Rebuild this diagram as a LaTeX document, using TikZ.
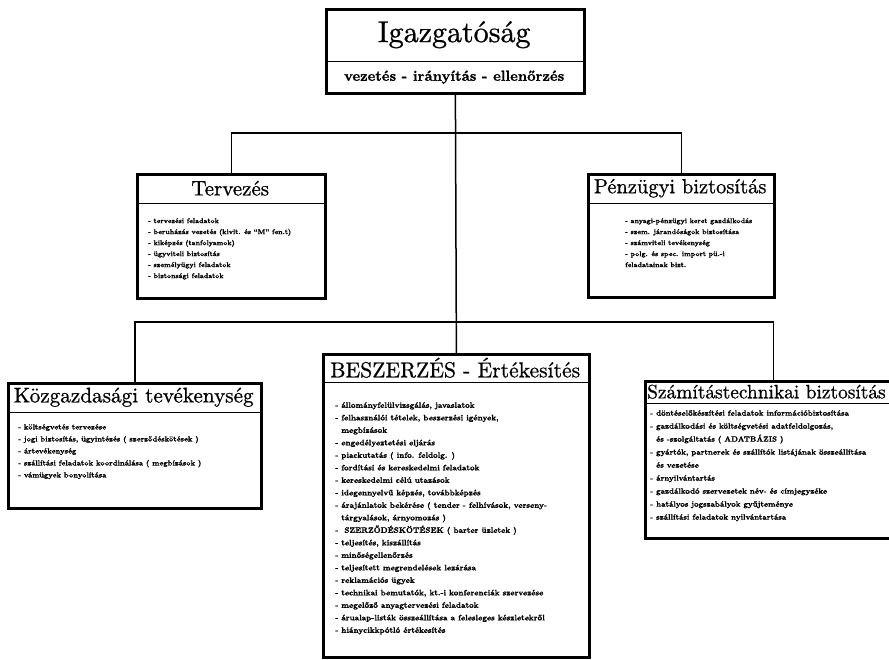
\documentclass[tikz,border=0pt]{standalone}
\usepackage{fontspec}
\usepackage{tikz}
\usetikzlibrary{positioning}

\newfontfamily\headfont[Ligatures=TeX,FakeBold=0.8]{lmroman10-regular.otf}
\newfontfamily\listfont[Ligatures=TeX,FakeBold=1.2]{lmroman10-bold.otf}

\tikzset{
  box/.style={draw, line width=2.8pt, anchor=north west, inner sep=0pt},
  head/.style={anchor=north west, inner sep=0pt},
  rule/.style={line width=1.5pt},
  wire/.style={line width=1.5pt},
  list/.style={anchor=north west, align=left, inner sep=0pt},
}

\begin{document}
\begin{tikzpicture}[x=1pt,y=-1pt]
\useasboundingbox (0,0) rectangle (889,659);

\node[box, minimum width=258pt, minimum height=84pt] (igaz) at (325,8) {};
\node[head, minimum width=258pt, minimum height=53pt, font=\headfont\fontsize{30}{32}\selectfont] (igazT) at (igaz.north west) {Igazgatóság};
\draw[rule] (igazT.south west) -- (igazT.south east);
\node[below=0pt of igazT, minimum height=31pt, inner sep=0pt, font=\listfont\fontsize{14.6}{16}\selectfont] (igazS) {vezetés - irányítás - ellenőrzés};

\node[box, minimum width=188pt, minimum height=124pt] (terv) at (136,173) {};
\node[head, minimum width=188pt, minimum height=30pt, font=\headfont\fontsize{21}{23}\selectfont] (tervT) at (terv.north west) {Tervezés};
\draw[rule] (tervT.south west) -- (tervT.south east);
\node[list, font=\listfont\fontsize{7}{11}\selectfont] (tervL) at (148,218) {- tervezési feladatok\\
- beruházás vezetés (kivit. és ``M'' fen.t)\\
- kiképzés (tanfolyamok)\\
- ügyviteli biztosítás\\
- személyügyi feladatok\\
- biztonsági feladatok};

\node[box, minimum width=186pt, minimum height=123pt] (penz) at (587,173) {};
\node[head, minimum width=186pt, minimum height=30pt, font=\headfont\fontsize{20.5}{22}\selectfont] (penzT) at (penz.north west) {Pénzügyi biztosítás};
\draw[rule] (penzT.south west) -- (penzT.south east);
\node[list, font=\listfont\fontsize{7}{11}\selectfont] (penzL) at (625,218) {- anyagi-pénzügyi keret gazdálkodás\\
- szem. járandóságok biztosítása\\
- számviteli tevékenység\\
- polg. és spec. import pü.-i\\
feladatainak bizt.};

\node[box, minimum width=253pt, minimum height=125pt] (kozg) at (7,382) {};
\node[head, minimum width=253pt, minimum height=30pt, font=\headfont\fontsize{21.2}{23}\selectfont] (kozgT) at (kozg.north west) {Közgazdasági tevékenység};
\draw[rule] (kozgT.south west) -- (kozgT.south east);
\node[list, font=\listfont\fontsize{7.5}{12}\selectfont] (kozgL) at (18,424) {- költségvetés tervezése\\
- jogi biztosítás, ügyintézés ( szerződéskötések )\\
- ártevékenység\\
- szállítási feladatok koordinálása ( megbízások )\\
- vámügyek bonyolítása};

\node[box, minimum width=266pt, minimum height=303pt] (besz) at (322,353) {};
\node[head, minimum width=266pt, minimum height=29pt, font=\headfont\fontsize{21.6}{23}\selectfont] (beszT) at (besz.north west) {BESZERZÉS - Értékesítés};
\draw[rule] (beszT.south west) -- (beszT.south east);
\node[list, font=\listfont\fontsize{8}{12.5}\selectfont] (beszL) at (335,402) {- állományfelülvizsgálás, javaslatok\\
- felhasználói tételek, beszerzési igények,\\
\phantom{- }megbízások\\
- engedélyeztetési eljárás\\
- piackutatás ( info. feldolg. )\\
- fordítási és kereskedelmi feladatok\\
- kereskedelmi célú utazások\\
- idegennyelvű képzés, továbbképzés\\
- árajánlatok bekérése ( tender - felhívások, verseny-\\
\phantom{- }tárgyalások, árnyomozás )\\
- \ SZERZŐDÉSKÖTÉSEK ( barter üzletek )\\
- teljesítés, kiszállítás\\
- minőségellenőrzés\\
- teljesített megrendelések lezárása\\
- reklamációs ügyek\\
- technikai bemutatók, kt.-i konferenciák szervezése\\
- megelőző anyagtervezési feladatok\\
- árualap-listák összeállítása a felesleges készletekről\\
- hiánycikkpótló értékesítés};

\node[box, minimum width=256pt, minimum height=157pt] (szam) at (644,380) {};
\node[head, minimum width=256pt, minimum height=23pt] (szamT) at (szam.north west) {};
\node[anchor=west, inner sep=0pt, font=\headfont\fontsize{19.4}{21}\selectfont] (szamN) at ([xshift=3pt]szamT.west) {Számítástechnikai biztosítás};
\draw[rule] (szamT.south west) -- (szamT.south east);
\node[list, font=\listfont\fontsize{7.8}{13}\selectfont] (szamL) at (650,410) {- döntéselőkészítési feladatok információbiztosítása\\
- gazdálkodási és költségvetési adatfeldolgozás,\\
\phantom{- }és -szolgáltatás ( ADATBÁZIS )\\
- gyártók, partnerek és szállítók listájának összeállítása\\
\phantom{- }és vezetése\\
- árnyilvántartás\\
- gazdálkodó szervezetek név- és címjegyzéke\\
- hatályos jogszabályok gyűjteménye\\
- szállítási feladatok nyilvántartása};

\coordinate (felso) at (igaz.south |- 0,133);
\coordinate (also) at (igaz.south |- 0,322);
\draw[wire] (igaz.south) -- (besz.north);
\draw[wire] (terv.north) |- (felso) -| (penz.north);
\draw[wire] (kozg.north) |- (also) -| (szam.north);
\end{tikzpicture}
\end{document}
